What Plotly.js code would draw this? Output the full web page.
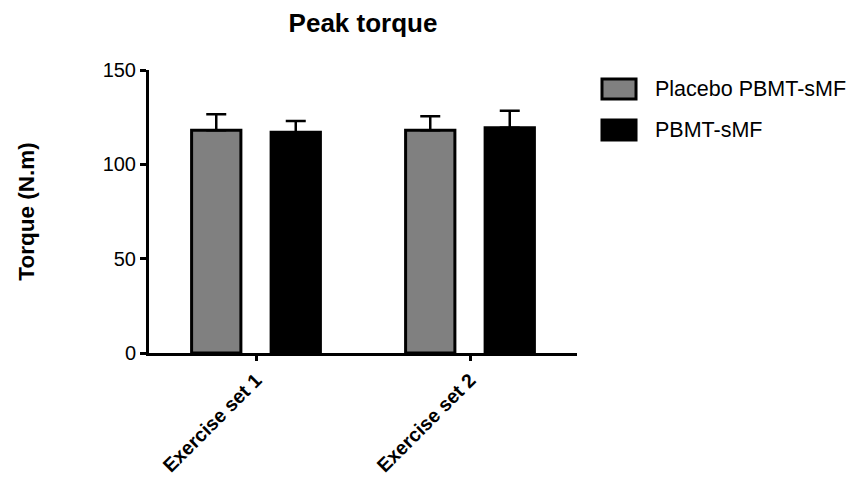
<!DOCTYPE html>
<html>
<head>
<meta charset="utf-8">
<script src="https://cdn.plot.ly/plotly-3.0.1.min.js"></script>
<style>html,body{margin:0;padding:0;background:#fff;}#chart{width:857px;height:481px;}</style>
</head>
<body>
<div id="chart"></div>
<script>
const categories = ["Exercise set 1", "Exercise set 2"];
const seriesNames = ["Placebo PBMT-sMF", "PBMT-sMF"];
const placeboValues = [118, 118];
const placeboErrors = [8.5, 7.5];
const activeValues = [117, 119.4];
const activeErrors = [6, 9];
const yTicks = [0, 50, 100, 150];

const FONT = '"Liberation Sans", Arial, Helvetica, sans-serif';
const colors = ["#808080", "#000000"];

function barTrace(name, vals, errs, color) {
  return {
    type: 'bar', name: name, x: categories, y: vals,
    marker: {color: color, line: {color: '#000', width: 3}},
    error_y: {type: 'data', symmetric: false, array: errs, arrayminus: errs.map(() => 0),
              color: '#000', thickness: 2.5, width: 10},
    showlegend: false, hoverinfo: 'skip'
  };
}

const data = [
  barTrace(seriesNames[0], placeboValues, placeboErrors, colors[0]),
  barTrace(seriesNames[1], activeValues, activeErrors, colors[1])
];

const legendShapes = seriesNames.map((n, i) => ({
  type: 'rect', xref: 'paper', yref: 'paper',
  x0: 1.0584, x1: 1.1379,
  y0: [0.8975, 0.7527][i], y1: [0.968, 0.8233][i],
  fillcolor: colors[i], line: {color: '#000', width: 3}
}));
const legendText = seriesNames.map((n, i) => ({
  xref: 'paper', yref: 'paper', x: 1.1776, y: [0.9329, 0.788][i],
  xanchor: 'left', yanchor: 'middle', showarrow: false, text: n,
  font: {family: FONT, size: 21.5, color: '#000'}
}));

const layout = {
  width: 857, height: 481,
  margin: {l: 149, r: 280, t: 70, b: 128},
  paper_bgcolor: '#fff', plot_bgcolor: '#fff',
  font: {family: FONT, color: '#000'},
  barmode: 'group', bargap: 0.257, bargroupgap: 0.38,
  title: {text: '<b>Peak torque</b>', xref: 'paper', x: 0.5, xanchor: 'center',
          yref: 'container', y: 0.952, yanchor: 'middle',
          font: {family: FONT, size: 26, color: '#000'}},
  xaxis: {
    type: 'category', range: [-0.5, 1.5], fixedrange: true,
    showline: true, linecolor: '#000', linewidth: 3,
    ticks: 'outside', ticklen: 5, tickwidth: 3, tickcolor: '#000',
    tickangle: -45, showgrid: false, zeroline: false,
    tickfont: {family: FONT, size: 19.5, color: '#000', weight: 'bold'}
  },
  yaxis: {
    range: [0, 150], tickvals: yTicks, ticktext: yTicks.map(String), fixedrange: true,
    showline: true, linecolor: '#000', linewidth: 3,
    ticks: 'outside', ticklen: 6, tickwidth: 3, tickcolor: '#000',
    showgrid: false, zeroline: false,
    tickfont: {family: FONT, size: 20, color: '#000'},
    title: {text: '<b>Torque (N.m)</b>', standoff: 62,
            font: {family: FONT, size: 22.5, color: '#000'}}
  },
  shapes: legendShapes,
  annotations: legendText,
  showlegend: false
};

Plotly.newPlot('chart', data, layout, {displayModeBar: false, staticPlot: true});
</script>
</body>
</html>
